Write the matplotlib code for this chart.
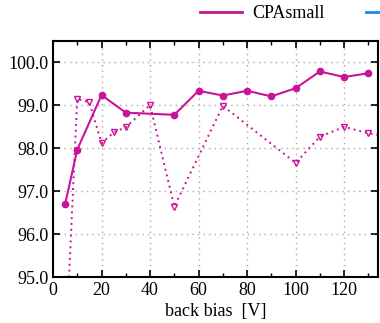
import numpy as np
import matplotlib
matplotlib.use("Agg")
import matplotlib.pyplot as plt
from matplotlib.lines import Line2D

plt.rcParams['font.family'] = ['Liberation Serif', 'DejaVu Serif']

# solid series (CPAsmall)
bias_a = [5, 10, 20, 30, 50, 60, 70, 80, 90, 100, 110, 120, 130]
eff_a = [96.70, 97.97, 99.24, 98.83, 98.78, 99.34, 99.23, 99.34, 99.21, 99.40, 99.79, 99.66, 99.75]

# dotted series, open triangles
bias_b = [5, 10, 15, 20, 25, 30, 40, 50, 70, 100, 110, 120, 130, 140]
eff_b = [93.04, 99.15, 99.07, 98.12, 98.37, 98.49, 99.01, 96.64, 98.99, 97.66, 98.27, 98.50, 98.35, 98.25]

pink = "#c8139a"
blue = "#1e88e5"

fig = plt.figure(figsize=(3.8, 3.23), dpi=100)
ax = fig.add_axes([0.1395, 0.1424, 0.8555, 0.7306])

ax.plot(bias_a, eff_a, color=pink, lw=1.5, marker='o', ms=4.5)
ax.plot(bias_b, eff_b, color=pink, lw=1.4, ls=(0, (1, 2)), marker='v', ms=5,
        markerfacecolor='none', markeredgewidth=1.0)

ax.set_xlim(0, 134)
ax.set_ylim(95.0, 100.5)
ax.set_xticks(np.arange(0, 121, 20))
ax.set_xticks(np.arange(10, 131, 20), minor=True)
ax.set_yticks(np.arange(95, 100.1, 1))
ax.set_yticklabels([f"{v:.1f}" for v in np.arange(95, 100.1, 1)])
ax.tick_params(which='both', direction='in', top=True, right=True, labelsize=13)
ax.tick_params(which='major', length=5, width=1.2)
ax.tick_params(which='minor', length=3, width=1.0)
ax.grid(True, which='major', ls=(0, (1, 3)), color='#aaaaaa', lw=1.0)
for s in ax.spines.values():
    s.set_linewidth(1.5)
ax.set_xlabel("back bias  [V]", fontsize=13, labelpad=3)

# second legend entry runs off the right edge, only its line shows
handles = [Line2D([], [], color=pink, lw=2), Line2D([], [], color=blue, lw=2)]
fig.legend(handles, ["CPAsmall", ""], loc='center left',
           bbox_to_anchor=(0.484, 0.957), ncol=2, frameon=False, fontsize=13,
           handlelength=2.3, handletextpad=0.6, columnspacing=2.3)

fig.savefig("out.png", dpi=100)
